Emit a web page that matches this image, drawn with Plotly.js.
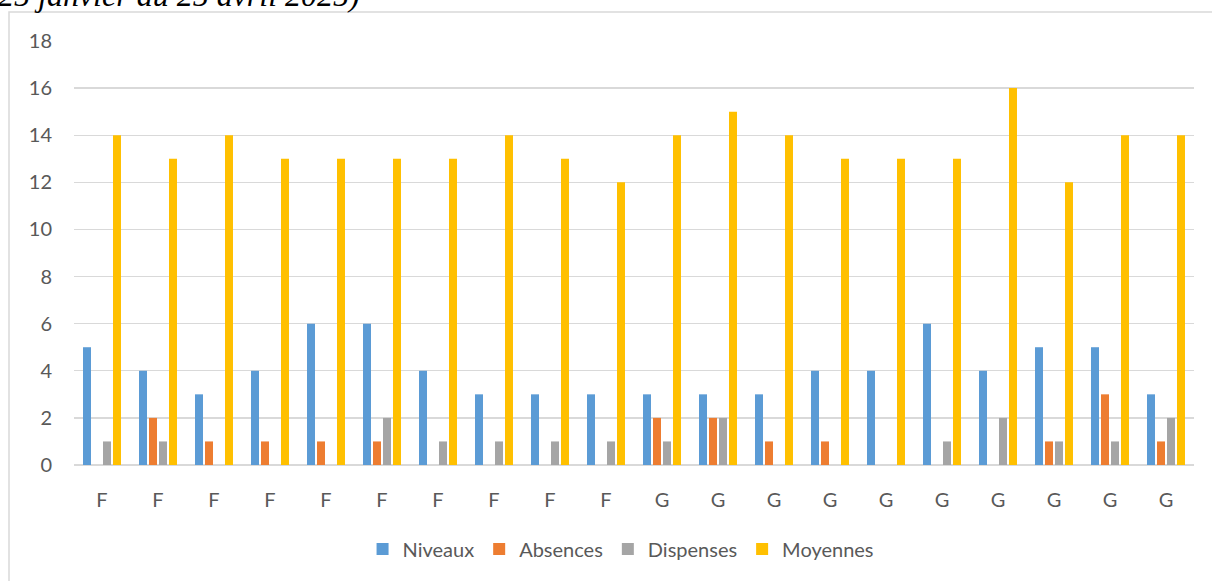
<!DOCTYPE html>
<html>
<head>
<meta charset="utf-8">
<script src="https://cdn.plot.ly/plotly-3.0.1.min.js"></script>
<style>
html,body{margin:0;padding:0;background:#fff;overflow:hidden;}
#chart{width:1212px;height:581px;}
</style>
</head>
<body>
<div id="chart"></div>
<script>
const categories = ["F","F","F","F","F","F","F","F","F","F","G","G","G","G","G","G","G","G","G","G"];
const niveaux   = [5,4,3,4,6,6,4,3,3,3,3,3,3,4,4,6,4,5,5,3];
const absences  = [0,2,1,1,1,1,0,0,0,0,2,2,1,1,0,0,0,1,3,1];
const dispenses = [1,1,0,0,0,2,1,1,1,1,1,2,0,0,0,1,2,1,1,2];
const moyennes  = [14,13,14,13,13,13,13,14,13,12,14,15,14,13,13,13,16,12,14,14];
const seriesNames = ["Niveaux","Absences","Dispenses","Moyennes"];
const seriesColors = ["#5B9BD5","#ED7D31","#A5A5A5","#FFC000"];
const yTicks = [0,2,4,6,8,10,12,14,16,18];

const idx = categories.map((c,i)=>i);
const values = [niveaux, absences, dispenses, moyennes];
const traces = values.map((v,k)=>({
  type:'bar', x: idx, y: v, name: seriesNames[k],
  marker:{color: seriesColors[k]}, hoverinfo:'y'
}));

// pixel helpers for a plot area 74..1194 x 41..465
const px = p => (p-74)/1120;
const py = p => (465-p)/424;

const layout = {
  width:1212, height:581,
  margin:{l:74, r:18, t:41, b:116, pad:0},
  paper_bgcolor:'#ffffff', plot_bgcolor:'#ffffff',
  barmode:'group', bargap:0.286, bargroupgap:0.2,
  font:{family:'Lato, "Liberation Sans", sans-serif', color:'#595959', size:20},
  showlegend:true,
  legend:{orientation:'h', x:0.488, xanchor:'center', y:py(549), yanchor:'middle',
          font:{size:20, color:'#595959'}, itemwidth:30, traceorder:'normal'},
  xaxis:{
    tickmode:'array', tickvals: idx, ticktext: categories,
    range:[-0.5, categories.length-0.5],
    showgrid:false, zeroline:false, showline:false, ticks:'',
    ticklabelstandoff:21, tickfont:{size:20, color:'#595959'}
  },
  yaxis:{
    range:[0,18], tickmode:'array', tickvals:yTicks,
    showgrid:true, gridcolor:'#d9d9d9', gridwidth:1.3,
    zeroline:true, zerolinecolor:'#d9d9d9', zerolinewidth:1.5,
    showline:false, ticks:'', ticklabelstandoff:21,
    tickfont:{size:20, color:'#595959'}
  },
  shapes:[{
    type:'rect', xref:'paper', yref:'paper',
    x0:px(9), x1:px(1220), y0:py(590), y1:py(12),
    line:{color:'#d9d9d9', width:1.5}, fillcolor:'rgba(0,0,0,0)', layer:'below'
  }],
  annotations:[{
    xref:'paper', yref:'paper', x:px(-4), y:py(15), xanchor:'left', yanchor:'bottom',
    text:'<i>25 janvier au 25 avril 2025)</i>', showarrow:false,
    font:{family:'"Liberation Serif", "DejaVu Serif", serif', size:32, color:'#000000'}
  }]
};

Plotly.newPlot('chart', traces, layout, {displayModeBar:false, staticPlot:true});
</script>
</body>
</html>
